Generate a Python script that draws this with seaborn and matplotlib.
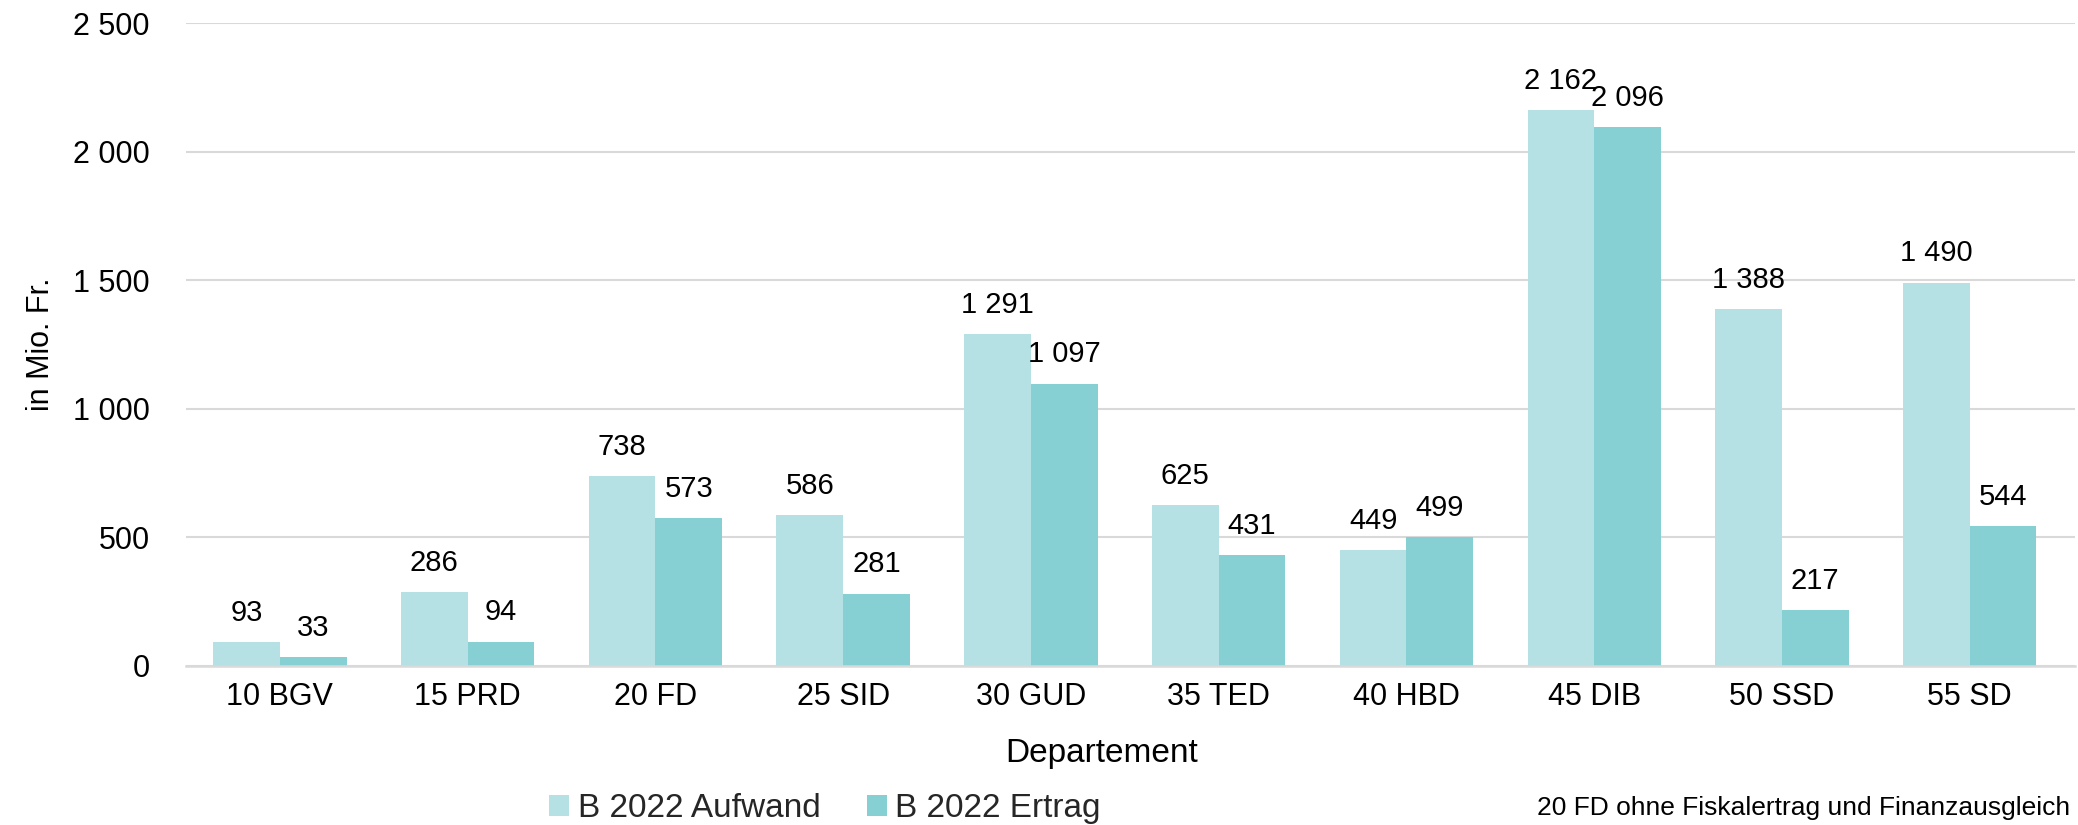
import pandas as pd
import matplotlib.pyplot as plt
import seaborn as sns

departments = ['10 BGV', '15 PRD', '20 FD', '25 SID', '30 GUD',
               '35 TED', '40 HBD', '45 DIB', '50 SSD', '55 SD']
aufwand = [93, 286, 738, 586, 1291, 625, 449, 2162, 1388, 1490]
ertrag = [33, 94, 573, 281, 1097, 431, 499, 2096, 217, 544]
series = ['B 2022 Aufwand', 'B 2022 Ertrag']
colors = ['#B6E1E4', '#86D0D3']

df = pd.DataFrame({
    'Departement': departments * 2,
    'Wert': aufwand + ertrag,
    'Serie': [series[0]] * len(departments) + [series[1]] * len(departments),
})

sns.set_theme(style="whitegrid")
plt.rcParams['font.family'] = ['Liberation Sans', 'DejaVu Sans']


def fmt(v):
    return f"{v:,.0f}".replace(',', ' ')


fig = plt.figure(figsize=(20.78, 8.25), dpi=100)
ax = fig.add_axes([0.0895, 0.193, 0.909, 0.779])

sns.barplot(data=df, x='Departement', y='Wert', hue='Serie',
            palette=colors, width=0.71, gap=0, saturation=1,
            linewidth=0, ax=ax, legend=True)

for cont in ax.containers:
    ax.bar_label(cont, labels=[fmt(b.get_height()) for b in cont],
                 padding=11, fontsize=21, color='black')

ax.set_ylim(0, 2500)
ax.set_xlim(-0.5, 9.56)
ax.set_yticks(range(0, 2501, 500))
ax.set_yticklabels([fmt(v) for v in range(0, 2501, 500)])
ax.tick_params(axis='both', labelsize=22, colors='black', length=0)
ax.tick_params(axis='y', pad=26)
ax.tick_params(axis='x', pad=12)
ax.grid(axis='y', color='#D9D9D9', linewidth=1.5)
ax.grid(axis='x', visible=False)
ax.set_axisbelow(True)
for s in ['top', 'right', 'left']:
    ax.spines[s].set_visible(False)
ax.spines['bottom'].set_color('#D9D9D9')
ax.spines['bottom'].set_linewidth(1.8)

ax.set_ylabel('in Mio. Fr.', fontsize=22, color='black', labelpad=12)
ax.set_xlabel('Departement', fontsize=24, color='black')
ax.xaxis.set_label_coords(0.485, -0.113)

handles, labels = ax.get_legend_handles_labels()
ax.get_legend().remove()
fig.legend(handles, labels, loc='center', bbox_to_anchor=(0.397, 0.02),
           ncol=2, frameon=False, fontsize=24, handlelength=0.6,
           handleheight=0.6, handletextpad=0.25, columnspacing=1.4)

fig.text(0.996, 0.02, '20 FD ohne Fiskalertrag und Finanzausgleich',
         ha='right', va='center', fontsize=19, color='black')

fig.savefig('out.png', dpi=100)
